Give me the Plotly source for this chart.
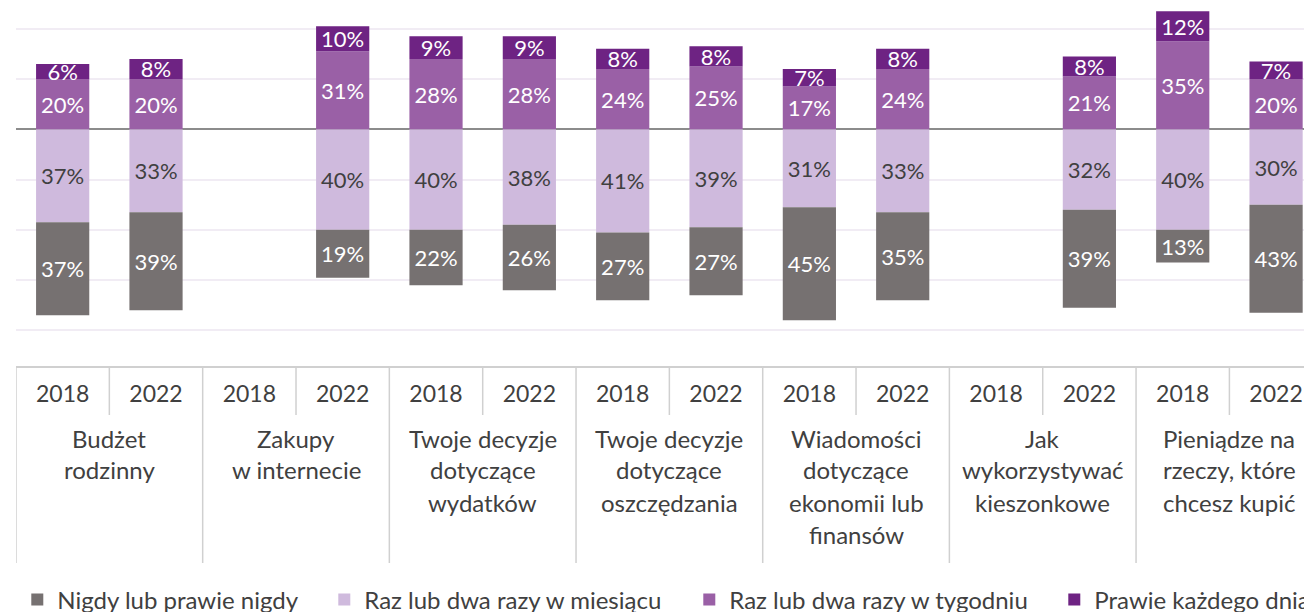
import plotly.graph_objects as go

# Kolory serii
C_NEVER = "#767171"
C_MONTH = "#CFBADD"
C_WEEK = "#9A60A6"
C_DAY = "#6E2383"
TXT = "#404040"
FONT = "Lato"

groups = [
    "Budżet\nrodzinny",
    "Zakupy\nw internecie",
    "Twoje decyzje\ndotyczące\nwydatków",
    "Twoje decyzje\ndotyczące\noszczędzania",
    "Wiadomości\ndotyczące\nekonomii lub\nfinansów",
    "Jak\nwykorzystywać\nkieszonkowe",
    "Pieniądze na\nrzeczy, które\nchcesz kupić",
]
years = ["2018", "2022"]

# wartości w %, kolejność: grupa x rok (None = brak danych)
never = [37, 39, None, 19, 22, 26, 27, 27, 45, 35, None, 39, 13, 43]
month = [37, 33, None, 40, 40, 38, 41, 39, 31, 33, None, 32, 40, 30]
week = [20, 20, None, 31, 28, 28, 24, 25, 17, 24, None, 21, 35, 20]
day = [6, 8, None, 10, 9, 9, 8, 8, 7, 8, None, 8, 12, 7]

keys = [f"{g}|{y}" for g in groups for y in years]
tick_years = [y for g in groups for y in years]


def lbl(vals):
    return [f"{v}%" if v is not None else "" for v in vals]


def neg(vals):
    return [-v if v is not None else None for v in vals]


fig = go.Figure()
series = [
    ("Raz lub dwa razy w miesiącu", neg(month), month, C_MONTH, TXT, 2, 320),
    ("Nigdy lub prawie nigdy", neg(never), never, C_NEVER, "white", 1, 262),
    ("Raz lub dwa razy w tygodniu", week, week, C_WEEK, "white", 3, 320),
    ("Prawie każdego dnia", day, day, C_DAY, "white", 4, None),
]
for name, yv, raw, col, tcol, rank, lw in series:
    fig.add_trace(go.Bar(
        x=keys, y=yv, name=name, text=lbl(raw),
        marker=dict(color=col, line=dict(width=0)),
        textposition="inside", insidetextanchor="middle", textangle=0,
        constraintext="none",
        insidetextfont=dict(family=FONT, size=22, color=tcol),
        legendrank=rank, legendwidth=lw, hoverinfo="skip",
    ))

# strona ma 8 px marginesu body
OFF = 8
W = 1312 - OFF
H = 612 - OFF
PLOT_H = 366 - OFF


def py(pix):
    return (PLOT_H - (pix - OFF)) / PLOT_H


shapes = []
for i in range(len(groups) + 1):
    shapes.append(dict(type="line", xref="x", yref="paper", x0=2 * i - 0.5, x1=2 * i - 0.5,
                       y0=0, y1=py(563), line=dict(color="#D0D0D0", width=1.5)))
for i in range(len(groups)):
    shapes.append(dict(type="line", xref="x", yref="paper", x0=2 * i + 0.5, x1=2 * i + 0.5,
                       y0=0, y1=py(415), line=dict(color="#D0D0D0", width=1.5)))

annotations = []
for i, g in enumerate(groups):
    for j, line in enumerate(g.split("\n")):
        annotations.append(dict(x=2 * i + 0.5, xref="x", y=py(438 + 32 * j), yref="paper",
                                text=line, showarrow=False, xanchor="center", yanchor="middle",
                                font=dict(family=FONT, size=24, color=TXT)))

fig.update_layout(
    width=W, height=H,
    margin=dict(l=8, r=0, t=0, b=H - PLOT_H, autoexpand=False),
    barmode="relative", bargap=0.43,
    plot_bgcolor="white", paper_bgcolor="white",
    font=dict(family=FONT, size=22, color=TXT),
    showlegend=True,
    legend=dict(orientation="h", x=0.001, xanchor="left", y=py(600), yanchor="middle",
                font=dict(family=FONT, size=24, color=TXT), traceorder="normal"),
    shapes=shapes, annotations=annotations,
)
fig.update_xaxes(
    range=[-0.5, 13.385], tickmode="array", tickvals=keys, ticktext=tick_years,
    showline=True, linecolor="#D0D0D0", linewidth=1.5, showgrid=False,
    ticks="", ticklabelstandoff=7, tickfont=dict(family=FONT, size=23, color=TXT),
)
fig.update_yaxes(
    range=[-94.15, 48.25], dtick=20, showticklabels=False,
    gridcolor="#F1ECF4", gridwidth=1.5,
    zeroline=True, zerolinecolor="#8C8C8C", zerolinewidth=2,
)

fig.write_html("out.html")
